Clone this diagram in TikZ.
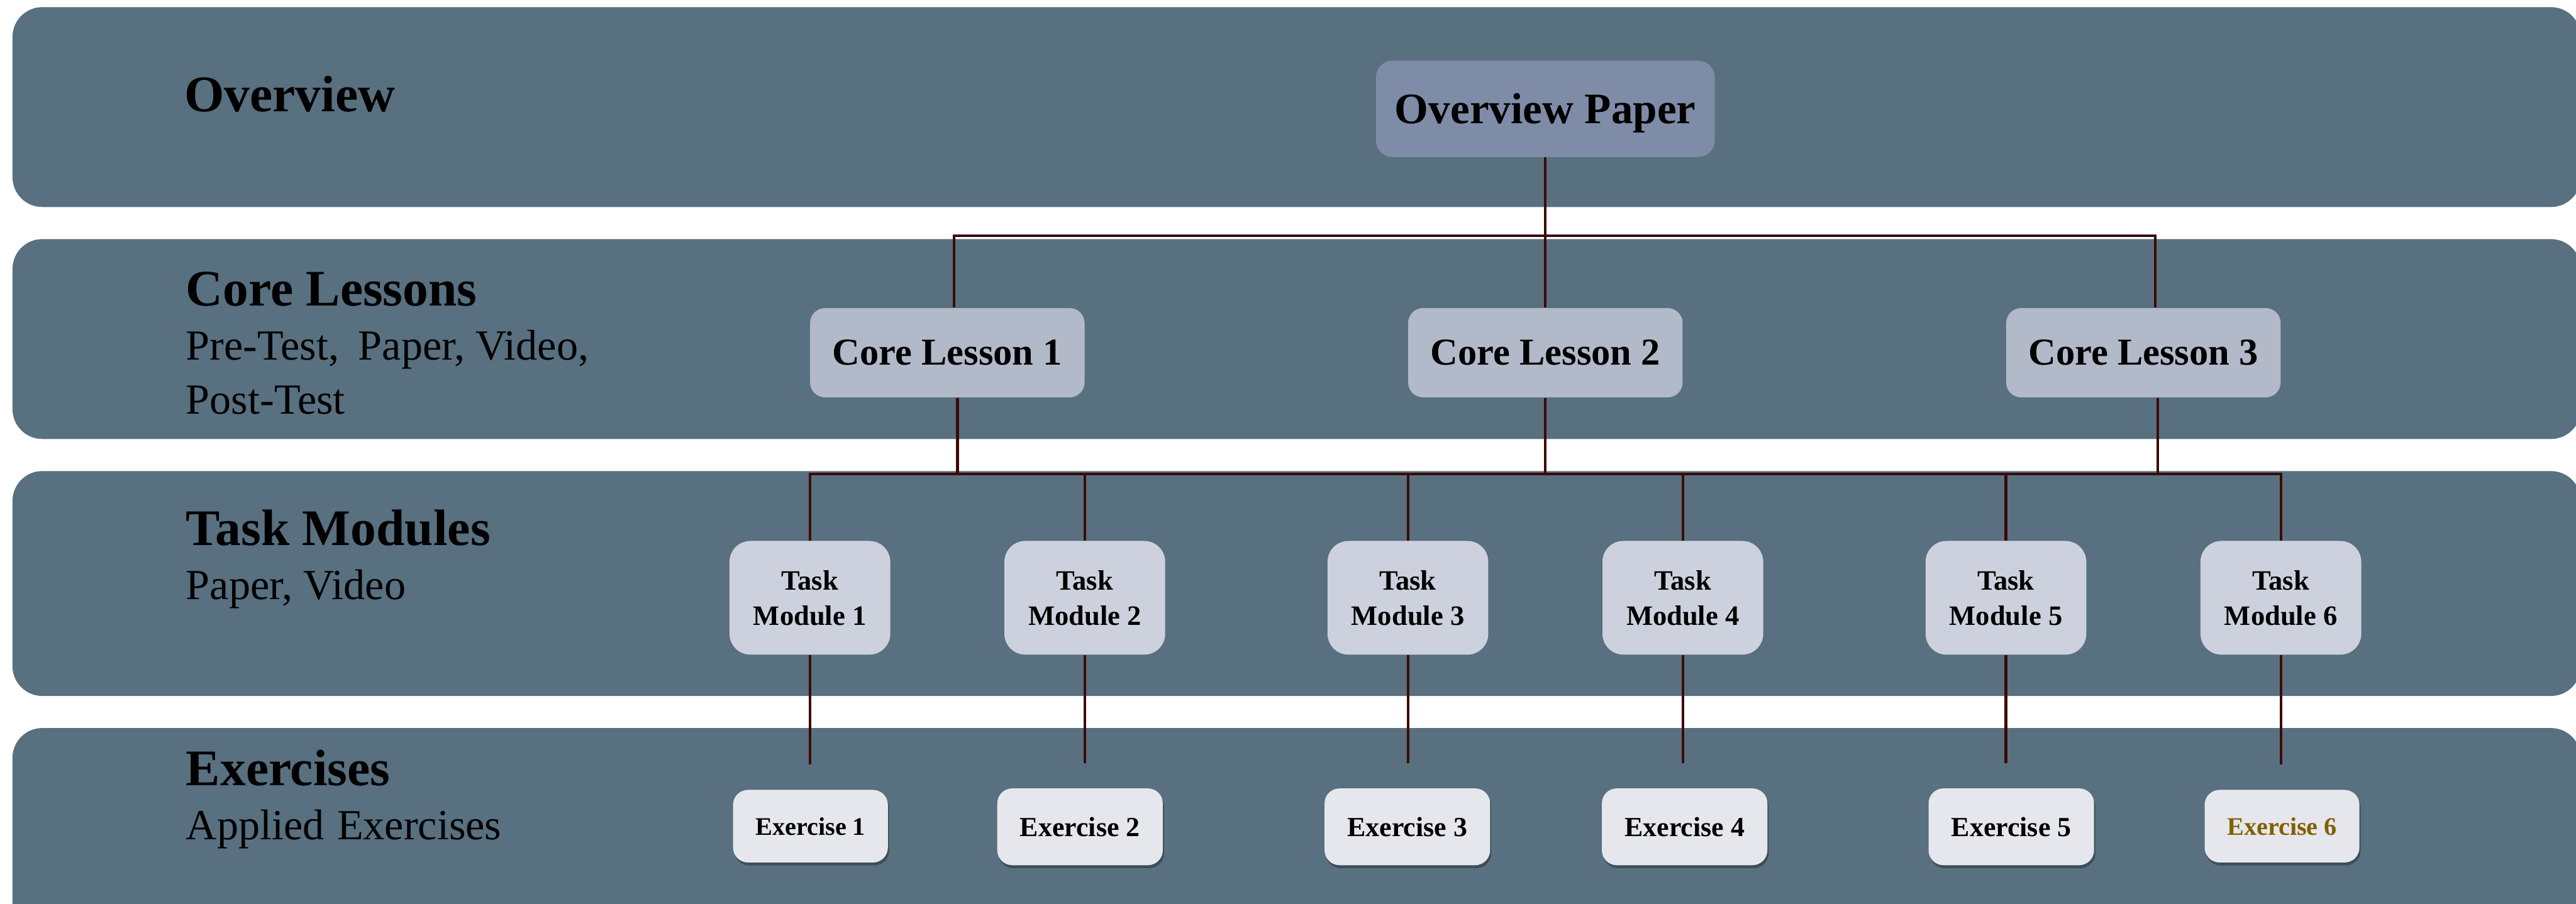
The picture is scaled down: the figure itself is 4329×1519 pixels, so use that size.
\documentclass[tikz,border=0pt]{standalone}
\usepackage{fontspec}
\setmainfont{Liberation Serif}
\usetikzlibrary{shadows,calc}
\definecolor{band}{HTML}{587080}
\definecolor{opfill}{HTML}{7F8CA8}
\definecolor{clfill}{HTML}{B2B9C9}
\definecolor{tmfill}{HTML}{CDD1DD}
\definecolor{exfill}{HTML}{E6E7EC}
\definecolor{conncol}{HTML}{3D0A05}
\definecolor{goldtxt}{HTML}{806000}
\begin{document}
\begin{tikzpicture}[x=0.01cm,y=-0.01cm,
  bandbox/.style={fill=band, rounded corners=0.5cm},
  conn/.style={draw=conncol, line width=1.3pt},
  heading/.style={anchor=base west, inner sep=0pt, font=\fontsize{24.5}{29}\selectfont\bfseries},
  subtext/.style={anchor=base west, inner sep=0pt, font=\fontsize{20.5}{25}\selectfont},
  opbox/.style={fill=opfill, rounded corners=0.28cm, minimum width=5.69cm, minimum height=1.62cm, inner sep=0pt, text height=14pt, text depth=0pt, font=\fontsize{20.8}{25}\selectfont\bfseries},
  clbox/.style={fill=clfill, rounded corners=0.25cm, minimum width=4.61cm, minimum height=1.5cm, inner sep=0pt, font=\fontsize{18.2}{22}\selectfont\bfseries},
  tmbox/.style={fill=tmfill, rounded corners=0.35cm, minimum width=2.7cm, minimum height=1.91cm, inner sep=0pt, align=center, font=\fontsize{13.4}{16.8}\selectfont\bfseries},
  exbox/.style={fill=exfill, rounded corners=0.25cm, inner sep=0pt,
    drop shadow={shadow xshift=0.02cm, shadow yshift=-0.05cm, opacity=0.3, fill=black}},
  exsmall/.style={exbox, minimum width=2.6cm, minimum height=1.22cm, font=\fontsize{12.1}{14}\selectfont\bfseries},
  exlarge/.style={exbox, minimum width=2.78cm, minimum height=1.29cm, font=\fontsize{13.2}{16}\selectfont\bfseries}
]
\useasboundingbox (0,0) rectangle (4329,1519);
% bands
\fill[bandbox] (21,12) rectangle (4337,348);
\fill[bandbox] (21,402) rectangle (4337,738);
\fill[bandbox] (21,792) rectangle (4337,1170);
\fill[bandbox] (21,1224) rectangle (4337,1590);
% band labels
\node[heading] (hov) at (309,188) {Overview};
\node[heading] (hcl) at (312,514) {Core Lessons};
\node[subtext] (scl1) at (312,605) {Pre-Test,\hspace{0.2em} Paper, Video,};
\node[subtext] (scl2) at (312,696) {Post-Test};
\node[heading] (htm) at (312,917) {Task Modules};
\node[subtext] (stm) at (312,1008) {Paper, Video};
\node[heading] (hex) at (312,1321) {Exercises};
\node[subtext] (sex) at (312,1411) {Applied\hspace{0.05em} Exercises};
% nodes
\node[opbox] (op) at (2597,183) {Overview Paper};
\node[clbox] (cl1) at (1592,593) {Core Lesson 1};
\node[clbox] (cl2) at (2597,593) {Core Lesson 2};
\node[clbox] (cl3) at (3602,593) {Core Lesson 3};
\node[tmbox] (tm1) at (1361,1005) {Task\\Module 1};
\node[tmbox] (tm2) at (1823,1005) {Task\\Module 2};
\node[tmbox] (tm3) at (2366,1005) {Task\\Module 3};
\node[tmbox] (tm4) at (2828,1005) {Task\\Module 4};
\node[tmbox] (tm5) at (3371,1005) {Task\\Module 5};
\node[tmbox] (tm6) at (3833,1005) {Task\\Module 6};
\node[exsmall] (ex1) at (1362,1389) {Exercise 1};
\node[exlarge] (ex2) at (1815,1390) {Exercise 2};
\node[exlarge] (ex3) at (2365,1390) {Exercise 3};
\node[exlarge] (ex4) at (2831,1390) {Exercise 4};
\node[exlarge] (ex5) at (3380,1390) {Exercise 5};
\node[exsmall, text=goldtxt] (ex6) at (3835,1389) {Exercise 6};
% connectors: overview -> core lessons
\coordinate (j1) at (2597,396);
\draw[conn] (op.south) -- (cl2.north);
\draw[conn] ([xshift=0.11cm]cl1.north) |- (j1) -| ([xshift=0.2cm]cl3.north);
% core lessons -> task modules
\coordinate (j2) at (2597,797);
\draw[conn] (tm1.north) |- (j2) -| (tm6.north);
\foreach \t in {tm2,tm3,tm4,tm5}{\draw[conn] (\t.north) -- (\t.north |- j2);}
\draw[conn] ([xshift=0.17cm]cl1.south) -- ([xshift=0.17cm]cl1.south |- j2);
\draw[conn] (cl2.south) -- (cl2.south |- j2);
\draw[conn] ([xshift=0.24cm]cl3.south) -- ([xshift=0.24cm]cl3.south |- j2);
% task modules -> exercises
\foreach \i in {1,...,6}{\draw[conn] (tm\i.south) -- ($(tm\i.south |- ex\i.north)+(0,-42)$);}
\end{tikzpicture}
\end{document}
